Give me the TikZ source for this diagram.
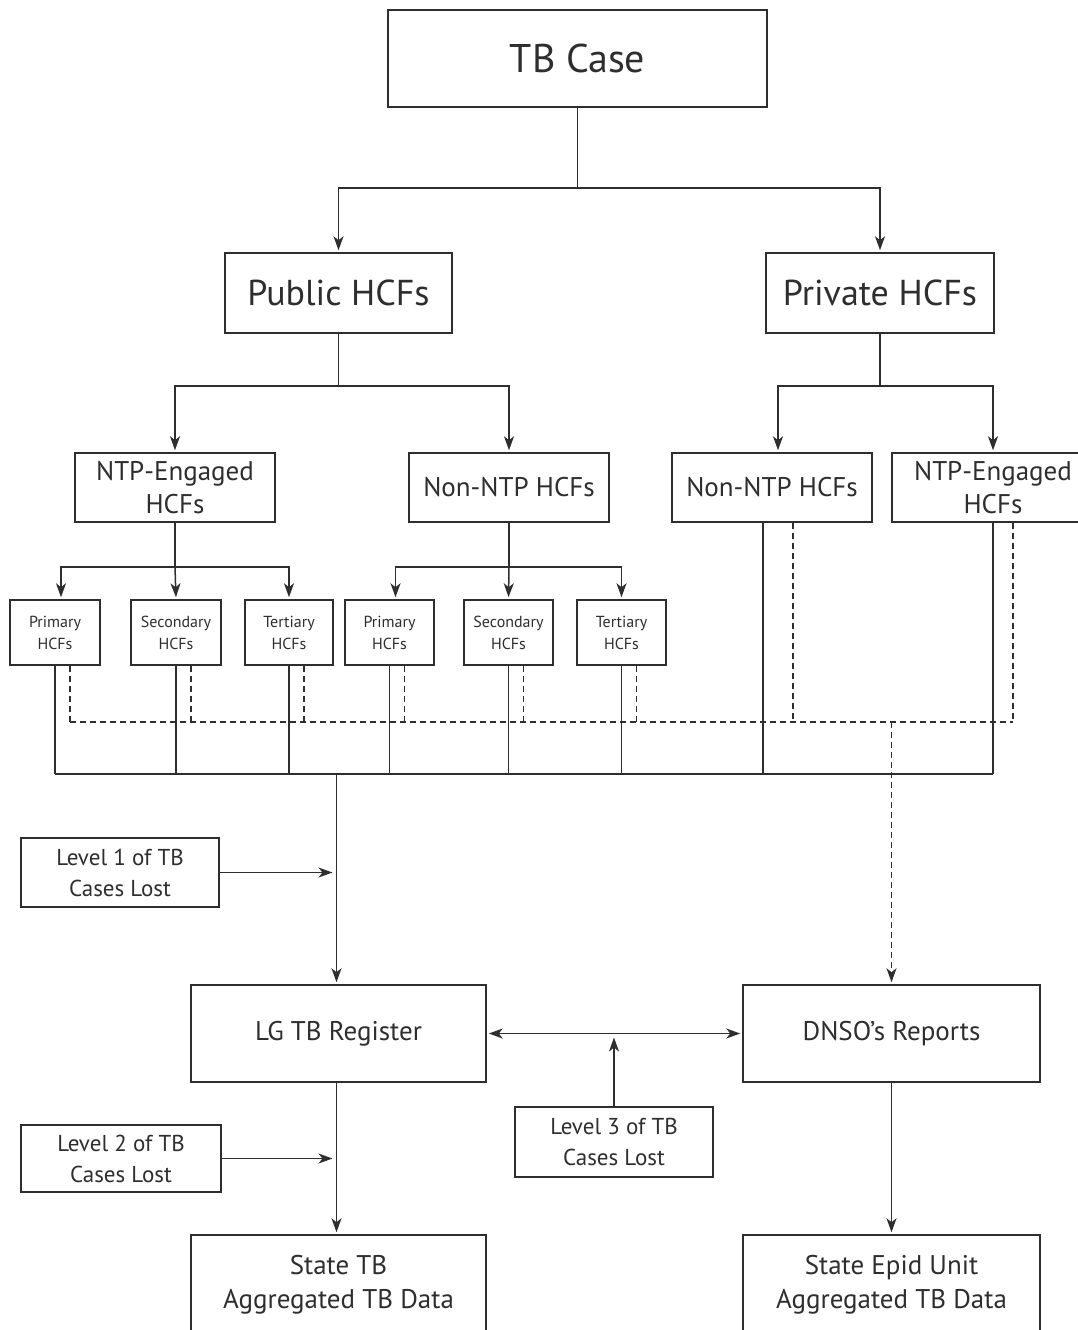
\documentclass[tikz,border=0pt]{standalone}
\usepackage{fontspec}
\setmainfont{PT Sans}
\usepackage{tikz}
\usetikzlibrary{arrows.meta}

\definecolor{ink}{HTML}{2E2E2E}

\tikzset{
  box/.style={draw=ink, line width=1.5pt, fill=white, text=ink, align=center, inner sep=0pt},
  wire/.style={draw=ink, line width=1.5pt},
  arr/.style={wire, -{Stealth[length=14pt,width=10pt,inset=4pt]}, shorten >=2pt},
  dash line/.style={wire, dash pattern=on 6pt off 4pt},
  big/.style={font=\fontsize{40}{46}\selectfont},
  mid/.style={font=\fontsize{36}{42}\selectfont},
  sub/.style={font=\fontsize{27}{33}\selectfont},
  small/.style={font=\fontsize{16}{22}\selectfont},
  lost/.style={font=\fontsize{23}{31}\selectfont},
  low/.style={font=\fontsize{27}{34}\selectfont},
}

\begin{document}
\begin{tikzpicture}[x=1pt, y=-1pt]
	\useasboundingbox (0,0) rectangle (1078,1330);
	\clip (0,0) rectangle (1078,1330);
	%
	\node[box, big, minimum width=379, minimum height=97] (tbcase) at (577.5,58.5) {TB Case};
	\node[box, mid, minimum width=227, minimum height=80] (public) at (338.5,293) {Public HCFs};
	\node[box, mid, minimum width=228, minimum height=80] (private) at (880,293) {Private HCFs};
	%
	\node[box, sub, minimum width=200, minimum height=69] (ntpL) at (175,487.5) {NTP-Engaged\\HCFs};
	\node[box, sub, minimum width=200, minimum height=69] (nonL) at (509,487.5) {Non-NTP HCFs};
	\node[box, sub, minimum width=200, minimum height=69] (nonR) at (772,487.5) {Non-NTP HCFs};
	\node[box, sub, minimum width=202, minimum height=69] (ntpR) at (993,487.5) {NTP-Engaged\\HCFs};
	%
	\node[box, small, minimum width=90, minimum height=65] (pri1) at (55,632.5) {Primary\\HCFs};
	\node[box, small, minimum width=90, minimum height=65] (sec1) at (176,632.5) {Secondary\\HCFs};
	\node[box, small, minimum width=88, minimum height=65] (ter1) at (289,632.5) {Tertiary\\HCFs};
	\node[box, small, minimum width=89, minimum height=65] (pri2) at (389.5,632.5) {Primary\\HCFs};
	\node[box, small, minimum width=89, minimum height=65] (sec2) at (508.5,632.5) {Secondary\\HCFs};
	\node[box, small, minimum width=89, minimum height=65] (ter2) at (621.5,632.5) {Tertiary\\HCFs};
	%
	\node[box, lost, minimum width=198, minimum height=69] (lvl1) at (120,872.5) {Level 1 of TB\\Cases Lost};
	\node[box, low, minimum width=295, minimum height=97] (lg) at (338.5,1033.5) {LG TB Register};
	\node[box, low, minimum width=297, minimum height=97] (dnso) at (891.5,1033.5) {DNSO’s Reports};
	\node[box, lost, minimum width=198, minimum height=70] (lvl3) at (614,1142) {Level 3 of TB\\Cases Lost};
	\node[box, lost, minimum width=200, minimum height=67] (lvl2) at (121,1158.5) {Level 2 of TB\\Cases Lost};
	\node[box, low, minimum width=295, minimum height=100] (state) at (338.5,1285) {State TB\\Aggregated TB Data};
	\node[box, low, minimum width=297, minimum height=100] (epid) at (891.5,1285) {State Epid Unit\\Aggregated TB Data};
	%
	\coordinate (b1) at (577.5,188);
	\coordinate (b2) at (338.5,386);
	\coordinate (b3) at (880,386);
	\coordinate (b4) at (175,567);
	\coordinate (b5) at (509,567);
	\coordinate (solidbus) at (0,774);
	\coordinate (dashbus) at (0,722);
	%
	\draw[wire] (tbcase.south) -- (b1);
	\draw[arr] (b1) -| (public.north);
	\draw[arr] (b1) -| (private.north);
	\draw[wire] (public.south) -- (b2);
	\draw[arr] (b2) -| (ntpL.north);
	\draw[arr] (b2) -| (nonL.north);
	\draw[wire] (private.south) -- (b3);
	\draw[arr] (b3) -| ([xshift=6]nonR.north);
	\draw[arr] (b3) -| (ntpR.north);
	\draw[wire] (ntpL.south) -- (b4);
	\draw[arr] (b4) -| ([xshift=6]pri1.north);
	\draw[arr] (b4) -- (sec1.north);
	\draw[arr] (b4) -| (ter1.north);
	\draw[wire] (nonL.south) -- (b5);
	\draw[arr] (b5) -| ([xshift=6]pri2.north);
	\draw[arr] (b5) -- (sec2.north);
	\draw[arr] (b5) -| (ter2.north);
	%
	\foreach \hcf in {pri1,sec1,ter1,pri2,sec2,ter2}{
		\draw[wire] (\hcf.south) -- (\hcf.south |- solidbus);
		\draw[dash line] ([xshift=15]\hcf.south) -- ([xshift=15]\hcf.south |- dashbus);
	}
	\draw[wire] ([xshift=-9]nonR.south) -- ([xshift=-9]nonR.south |- solidbus);
	\draw[dash line] ([xshift=21]nonR.south) -- ([xshift=21]nonR.south |- dashbus);
	\draw[wire] (ntpR.south) -- (ntpR.south |- solidbus);
	\draw[dash line] ([xshift=20]ntpR.south) -- ([xshift=20]ntpR.south |- dashbus);
	\draw[wire] (pri1.south |- solidbus) -- (ntpR.south |- solidbus);
	\draw[dash line] ([xshift=15]pri1.south |- dashbus) -- ([xshift=20]ntpR.south |- dashbus);
	%
	\draw[arr] ([xshift=-2]lg.north |- solidbus) -- ([xshift=-2]lg.north);
	\draw[arr, dash pattern=on 6pt off 4pt] (dnso.north |- dashbus) -- (dnso.north);
	\draw[arr, shorten >=6pt] (lvl1.east) -- (lvl1.east -| lg.north);
	\draw[arr, shorten >=6pt] (lvl2.east) -- (lvl2.east -| lg.north);
	\draw[arr, {Stealth[length=14pt,width=10pt,inset=4pt]}-{Stealth[length=14pt,width=10pt,inset=4pt]}, shorten <=2pt] (lg.east) -- (dnso.west);
	\draw[arr, shorten >=4pt] (lvl3.north) -- (lvl3.north |- lg.east);
	\draw[arr] ([xshift=-2]lg.south) -- ([xshift=-2]state.north);
	\draw[arr] (dnso.south) -- (epid.north);
\end{tikzpicture}
\end{document}
